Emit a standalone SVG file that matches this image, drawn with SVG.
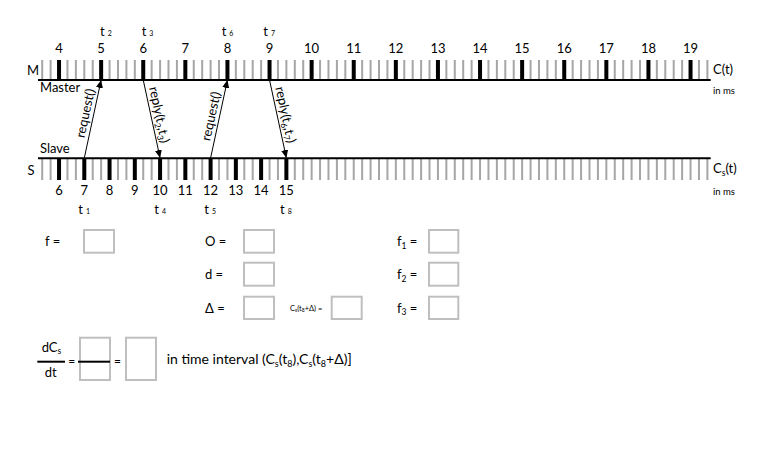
<svg xmlns="http://www.w3.org/2000/svg" width="760" height="471" viewBox="0 0 760 471">
<style>
text { font-family: Lato, "Open Sans", "Liberation Sans", sans-serif; fill: #000; font-size: 13px; }
.num { text-anchor: middle; }
.ts { font-size: 7px; }
.sub { font-size: 8.5px; }
.unit { font-size: 9.5px; }
.mid { text-anchor: middle; }
.tiny { font-size: 7.5px; }
.tinysub { font-size: 5px; }
.eq { font-size: 12px; }
.big { font-size: 14px; }
.bigsub { font-size: 9px; }
.box { fill: #fff; stroke: #bfbfbf; stroke-width: 2; }
.axis { stroke: #000; stroke-width: 2; }
.minor { stroke: #a6a6a6; stroke-dasharray: 2 6.42; }
.major { stroke: #000; }
.msg { stroke: #000; stroke-width: 1; fill: none; marker-end: url(#ah); }
</style>
<defs>
<marker id="ah" viewBox="0 0 8 7" refX="8" refY="3.5" markerWidth="8" markerHeight="7" markerUnits="userSpaceOnUse" orient="auto">
<path d="M0,0 L8,3.5 L0,7 z" fill="#000"/>
</marker>
</defs>

<g id="master">
<line class="minor" x1="41.2" y1="69.5" x2="708.5" y2="69.5" stroke-width="19"/>
<line class="major" x1="57.04" y1="69.5" x2="692.6" y2="69.5" stroke-width="19" stroke-dasharray="4 38.1"/>
<line class="axis" x1="38" y1="80" x2="710.7" y2="80"/>
<text x="27" y="75">M</text>
<text x="40" y="91.7">Master</text>
<text x="713" y="74.3">C(t)</text>
<text class="unit" x="713" y="94">in ms</text>
<g class="num">
<text x="59.04" y="53.3">4</text>
<text x="101.14" y="53.3">5</text>
<text x="143.24" y="53.3">6</text>
<text x="185.34" y="53.3">7</text>
<text x="227.44" y="53.3">8</text>
<text x="269.54" y="53.3">9</text>
<text x="311.64" y="53.3">10</text>
<text x="353.74" y="53.3">11</text>
<text x="395.84" y="53.3">12</text>
<text x="437.94" y="53.3">13</text>
<text x="480.04" y="53.3">14</text>
<text x="522.14" y="53.3">15</text>
<text x="564.24" y="53.3">16</text>
<text x="606.34" y="53.3">17</text>
<text x="648.44" y="53.3">18</text>
<text x="690.54" y="53.3">19</text>
</g>
<text x="100" y="36">t<tspan class="ts" dx="3">2</tspan></text>
<text x="141.7" y="36">t<tspan class="ts" dx="3">3</tspan></text>
<text x="221.7" y="36">t<tspan class="ts" dx="3">6</tspan></text>
<text x="263.3" y="36">t<tspan class="ts" dx="3">7</tspan></text>
</g>

<g id="slave">
<line class="minor" x1="41.2" y1="169.5" x2="708.5" y2="169.5" stroke-width="21"/>
<line class="major" x1="57.04" y1="169.5" x2="288.4" y2="169.5" stroke-width="21" stroke-dasharray="4 21.26"/>
<line class="axis" x1="38" y1="158.3" x2="710.7" y2="158.3"/>
<text x="27.5" y="175">S</text>
<text x="40" y="153.3">Slave</text>
<text x="713" y="173.3">C<tspan class="sub" dy="2.5">s</tspan><tspan dy="-2.5">(t)</tspan></text>
<text class="unit" x="713" y="195">in ms</text>
<g class="num">
<text x="59.04" y="195">6</text>
<text x="84.3" y="195">7</text>
<text x="109.56" y="195">8</text>
<text x="134.82" y="195">9</text>
<text x="160.08" y="195">10</text>
<text x="185.34" y="195">11</text>
<text x="210.6" y="195">12</text>
<text x="235.86" y="195">13</text>
<text x="261.12" y="195">14</text>
<text x="286.38" y="195">15</text>
</g>
<text x="78.3" y="214">t<tspan class="ts" dx="3">1</tspan></text>
<text x="154.3" y="214">t<tspan class="ts" dx="3">4</tspan></text>
<text x="204.3" y="214">t<tspan class="ts" dx="3">5</tspan></text>
<text x="280" y="214">t<tspan class="ts" dx="3">8</tspan></text>
</g>

<g id="connectors">
<line class="msg" x1="84.3" y1="158" x2="101.14" y2="80"/>
<line class="msg" x1="143.24" y1="80" x2="160.08" y2="158"/>
<line class="msg" x1="210.6" y1="158" x2="227.44" y2="80"/>
<line class="msg" x1="269.54" y1="80" x2="286.38" y2="158"/>
<text class="mid" transform="translate(93.58,115) rotate(-77.82)" x="0" y="-4">request()</text>
<text class="mid" transform="translate(151.12,116.5) rotate(77.82)" x="0" y="-4">reply(t<tspan class="sub" dy="2.5">2</tspan><tspan dy="-2.5">,t</tspan><tspan class="sub" dy="2.5">3</tspan><tspan dy="-2.5">)</tspan></text>
<text class="mid" transform="translate(219.24,118) rotate(-77.82)" x="0" y="-4">request()</text>
<text class="mid" transform="translate(277.42,116.5) rotate(77.82)" x="0" y="-4">reply(t<tspan class="sub" dy="2.5">6</tspan><tspan dy="-2.5">,t</tspan><tspan class="sub" dy="2.5">7</tspan><tspan dy="-2.5">)</tspan></text>
</g>

<g id="form">
<text x="45" y="246">f =</text>
<rect class="box" x="84" y="230" width="30" height="22.7"/>
<text x="205" y="246">O =</text>
<rect class="box" x="244" y="230" width="30" height="22.7"/>
<text x="205" y="279">d =</text>
<rect class="box" x="244" y="262.7" width="30" height="23"/>
<text x="205" y="312.5">Δ =</text>
<rect class="box" x="244" y="296.7" width="30" height="22.3"/>
<text class="tiny" x="290" y="310.5">C<tspan class="tinysub" dy="1">s</tspan><tspan dy="-1">(t</tspan><tspan class="tinysub" dy="1">8</tspan><tspan dy="-1">+Δ) =</tspan></text>
<rect class="box" x="331.7" y="296.7" width="30" height="22.3"/>
<text x="397" y="246">f<tspan class="sub" dy="2.5">1</tspan><tspan dy="-2.5"> =</tspan></text>
<rect class="box" x="429" y="230" width="29.3" height="22.7"/>
<text x="397" y="279">f<tspan class="sub" dy="2.5">2</tspan><tspan dy="-2.5"> =</tspan></text>
<rect class="box" x="429" y="262.7" width="29.3" height="23"/>
<text x="397" y="312.5">f<tspan class="sub" dy="2.5">3</tspan><tspan dy="-2.5"> =</tspan></text>
<rect class="box" x="429" y="296.7" width="29.3" height="22.3"/>
</g>

<g id="formula">
<text x="41.7" y="351.7">dC<tspan class="sub" dy="2.5">s</tspan></text>
<line x1="37.3" y1="361.7" x2="65" y2="361.7" stroke="#000" stroke-width="2"/>
<text class="mid" x="50.7" y="376.7">dt</text>
<text class="mid eq" x="71.8" y="365">=</text>
<rect class="box" x="80" y="337.7" width="30" height="42.3"/>
<line x1="78" y1="361.7" x2="110" y2="361.7" stroke="#000" stroke-width="2"/>
<text class="mid eq" x="117.5" y="365">=</text>
<rect class="box" x="126" y="337.7" width="30" height="42.3"/>
<text class="big" x="166.7" y="364">in time interval (C<tspan class="bigsub" dy="2.5">s</tspan><tspan dy="-2.5">(t</tspan><tspan class="bigsub" dy="2.5">8</tspan><tspan dy="-2.5">),C</tspan><tspan class="bigsub" dy="2.5">s</tspan><tspan dy="-2.5">(t</tspan><tspan class="bigsub" dy="2.5">8</tspan><tspan dy="-2.5">+Δ)]</tspan></text>
</g>
</svg>
